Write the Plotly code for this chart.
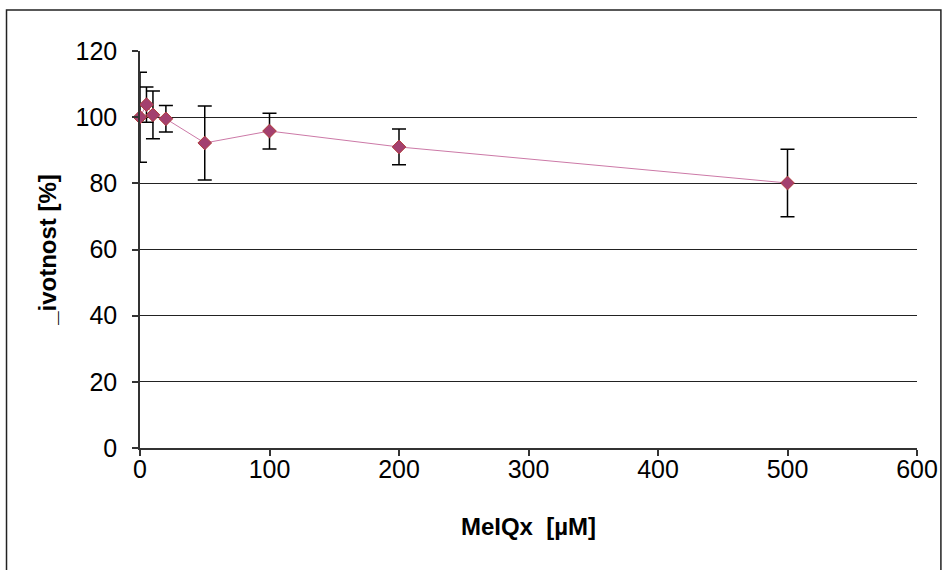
import plotly.graph_objects as go

# Data
conc_uM = [0, 5, 10, 20, 50, 100, 200, 500]
viability_pct = [100.0, 103.8, 100.7, 99.5, 92.2, 95.8, 91.0, 80.1]
error_pct = [13.6, 5.3, 7.2, 4.0, 11.2, 5.4, 5.4, 10.2]

x_ticks = [0, 100, 200, 300, 400, 500, 600]
y_ticks = [0, 20, 40, 60, 80, 100, 120]

fig = go.Figure()
fig.add_trace(go.Scatter(
    x=conc_uM, y=viability_pct,
    mode="lines+markers",
    line=dict(color="#CC79A7", width=1),
    marker=dict(symbol="diamond", size=10.5, color="#A3406F",
                line=dict(color="#B03A3A", width=1)),
    error_y=dict(type="data", array=error_pct, visible=True,
                 color="#000000", thickness=1.5, width=7),
    cliponaxis=False,
    showlegend=False,
))

fig.update_layout(
    width=950, height=570,
    margin=dict(l=140, r=30, t=51, b=122),
    paper_bgcolor="white", plot_bgcolor="white",
    font=dict(family="Liberation Sans, Arial, sans-serif", size=25, color="black"),
    xaxis=dict(
        range=[0, 600], tickvals=x_ticks, ticktext=[str(v) for v in x_ticks],
        showgrid=False, zeroline=False,
        showline=True, linecolor="#333333", linewidth=1.5,
        ticks="outside", ticklen=6, tickcolor="#333333", tickwidth=1.5,
        ticklabelstandoff=-8,
        title=dict(text="<b>MeIQx  [µM]</b>", font=dict(size=24), standoff=36),
    ),
    yaxis=dict(
        range=[0, 120], tickvals=y_ticks, ticktext=[str(v) for v in y_ticks],
        showgrid=True, gridcolor="#222222", gridwidth=1,
        zeroline=False,
        showline=True, linecolor="#333333", linewidth=1.5,
        ticks="outside", ticklen=6, tickcolor="#333333", tickwidth=1.5,
        ticklabelstandoff=10,
        title=dict(text="<b>_ivotnost [%]</b>", font=dict(size=24), standoff=12),
    ),
    shapes=[dict(
        type="rect", xref="paper", yref="paper",
        x0=(6 - 140) / 780, x1=(944 - 140) / 780,
        y0=(448 - 600) / 397, y1=(448 - 10) / 397,
        line=dict(color="#222222", width=1.5), fillcolor="rgba(0,0,0,0)",
        layer="below",
    )],
)

fig.write_html("out.html")
